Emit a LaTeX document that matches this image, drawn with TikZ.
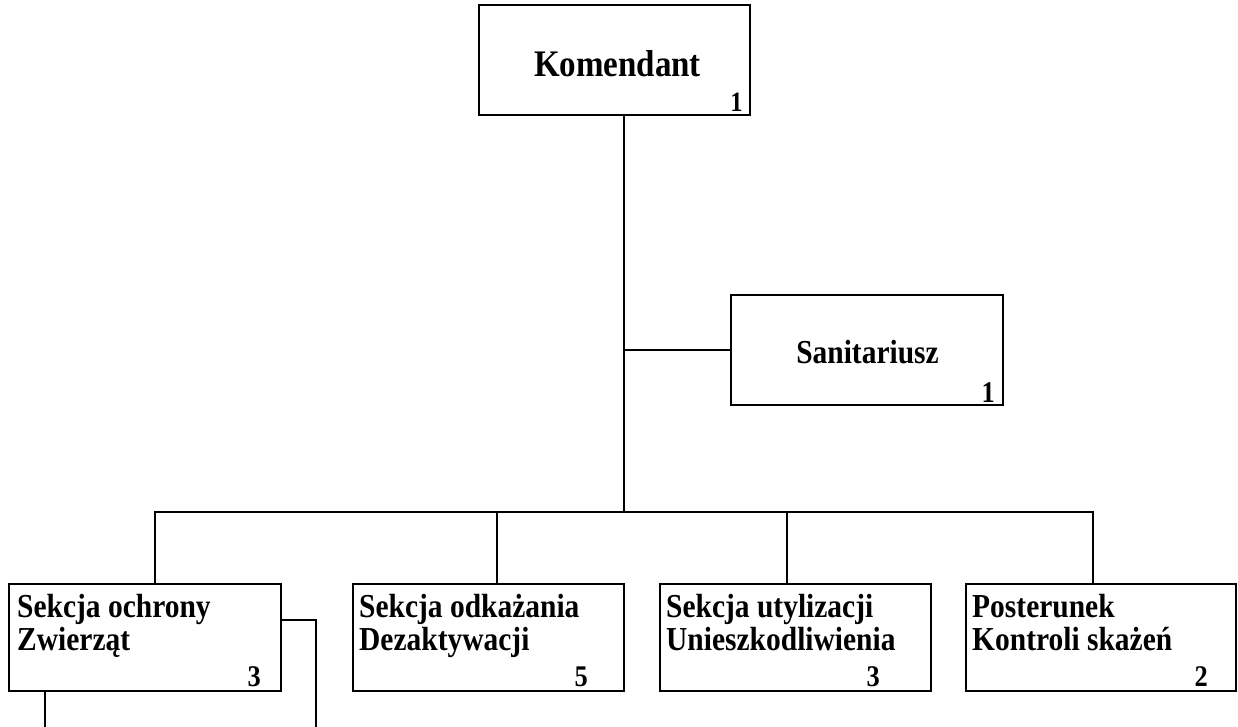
\documentclass[tikz,border=0pt]{standalone}
\usepackage{fontspec}
\setmainfont{Liberation Serif}[FakeStretch=0.88]
\begin{document}
\begin{tikzpicture}[x=1pt,y=-1pt,
  box/.style={draw=black,line width=2pt,fill=white,rectangle,inner sep=0pt,minimum height=#1},
  box/.default=107pt,
  conn/.style={draw=black,line width=2pt,line cap=rect},
  big/.style={inner sep=0pt,font=\fontsize{37.5}{40}\selectfont\bfseries},
  lbl/.style={inner sep=0pt,font=\fontsize{33.5}{35}\selectfont\bfseries},
  num/.style={inner sep=0pt,font=\fontsize{30}{32}\selectfont\bfseries}]
\useasboundingbox[fill=white] (0,0) rectangle (1238,727);

% boxes
\node[box=110pt,minimum width=271pt] (K) at (614.5,60) {};
\node[box=110pt,minimum width=272pt] (S) at (867,350) {};
\node[box,minimum width=272pt] (B1) at (145,637.5) {};
\node[box,minimum width=271pt] (B2) at (488.5,637.5) {};
\node[box,minimum width=271pt] (B3) at (795.5,637.5) {};
\node[box,minimum width=270pt] (B4) at (1101,637.5) {};

% texts
\node[big,anchor=base] (Kt) at (617.5,77) {Komendant};
\node[num,font=\fontsize{28}{30}\selectfont\bfseries,anchor=base east] (Kn) at (743,112) {1};
\node[lbl,anchor=base] (St) at (867.5,363) {Sanitariusz};
\node[num,anchor=base east] (Sn) at (995,402) {1};

\node[lbl,anchor=base west] (B1a) at (17,617) {Sekcja ochrony};
\node[lbl,anchor=base west] (B1b) at (17,650) {Zwierząt};
\node[num,anchor=base east] (B1n) at (261,686) {3};

\node[lbl,anchor=base west] (B2a) at (359,617) {Sekcja odkażania};
\node[lbl,anchor=base west] (B2b) at (359,650) {Dezaktywacji};
\node[num,anchor=base east] (B2n) at (588,686) {5};

\node[lbl,anchor=base west] (B3a) at (666,617) {Sekcja utylizacji};
\node[lbl,anchor=base west] (B3b) at (666,650) {Unieszkodliwienia};
\node[num,anchor=base east] (B3n) at (880,686) {3};

\node[lbl,anchor=base west] (B4a) at (972,617) {Posterunek};
\node[lbl,anchor=base west] (B4b) at (972,650) {Kontroli skażeń};
\node[num,anchor=base east] (B4n) at (1208,686) {2};

% connectors
\coordinate (j1) at (624,350);
\coordinate (j2) at (624,512);
\coordinate (d1) at (155,512);
\coordinate (d2) at (497,512);
\coordinate (d3) at (787,512);
\coordinate (d4) at (1093,512);
\coordinate (s1) at (316,620);
\coordinate (s1e) at (316,727);
\coordinate (l1) at (45,727);

\draw[conn] (K.south -| j1) -- (j2);
\draw[conn] (j1) -- (S.west);
\draw[conn] (d1) -- (d4);
\draw[conn] (d1) -- (d1 |- B1.north);
\draw[conn] (d2) -- (d2 |- B2.north);
\draw[conn] (d3) -- (d3 |- B3.north);
\draw[conn] (d4) -- (d4 |- B4.north);
\draw[conn] (B1.east |- s1) -- (s1) -- (s1e);
\draw[conn] (l1 |- B1.south) -- (l1);
\end{tikzpicture}
\end{document}
